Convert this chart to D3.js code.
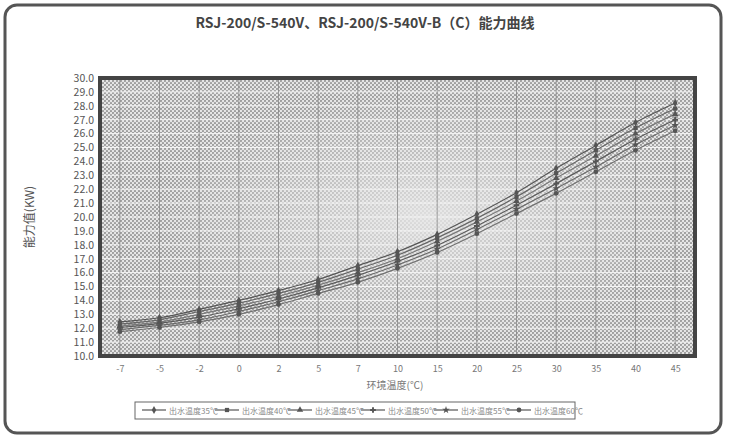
<!DOCTYPE html>
<html>
<head>
<meta charset="utf-8">
<script src="https://cdn.jsdelivr.net/npm/d3@7"></script>
<style>
  body { margin: 0; background: #fff; }
  text { font-family: "Noto Sans CJK SC", "DejaVu Sans", sans-serif; }
</style>
</head>
<body>
<svg id="chart" width="730" height="443"></svg>
<script>
const temps = ['-7', '-5', '-2', '0', '2', '5', '7', '10', '15', '20', '25', '30', '35', '40', '45'];
const seriesNames = ['出水温度35℃', '出水温度40℃', '出水温度45℃', '出水温度50℃', '出水温度55℃', '出水温度60℃'];
const s35 = [12.45, 12.75, 13.35, 14.0, 14.7, 15.5, 16.5, 17.5, 18.75, 20.2, 21.75, 23.5, 25.15, 26.8, 28.2];
const s40 = [12.3, 12.6, 13.2, 13.8, 14.5, 15.3, 16.25, 17.25, 18.5, 19.9, 21.45, 23.15, 24.8, 26.4, 27.8];
const s45 = [12.15, 12.45, 13.0, 13.6, 14.3, 15.1, 16.0, 17.0, 18.25, 19.65, 21.15, 22.8, 24.4, 26.0, 27.4];
const s50 = [12.05, 12.35, 12.8, 13.4, 14.1, 14.9, 15.8, 16.8, 17.95, 19.35, 20.85, 22.4, 24.0, 25.6, 27.0];
const s55 = [11.9, 12.2, 12.6, 13.2, 13.9, 14.7, 15.55, 16.55, 17.7, 19.1, 20.55, 22.05, 23.6, 25.2, 26.6];
const s60 = [11.75, 12.05, 12.45, 13.0, 13.7, 14.5, 15.3, 16.3, 17.45, 18.8, 20.25, 21.7, 23.25, 24.8, 26.2];
const yTicks = d3.range(10, 31, 1);

const allSeries = [s35, s40, s45, s50, s55, s60];
const symbols = [d3.symbolDiamond, d3.symbolSquare, d3.symbolTriangle, d3.symbolCross, d3.symbolStar, d3.symbolCircle];
const lineColors = ['#555', '#666', '#777', '#5a5a5a', '#6a6a6a', '#707070'];

const plot = { left: 100, right: 695, top: 78, bottom: 356 };

const svg = d3.select('#chart');

// dotted background pattern + light centre patch
const defs = svg.append('defs');
const pat = defs.append('pattern')
    .attr('id', 'dots').attr('width', 4).attr('height', 4)
    .attr('patternUnits', 'userSpaceOnUse');
pat.append('rect').attr('width', 4).attr('height', 4).attr('fill', '#e6e6e6');
pat.append('circle').attr('cx', 1).attr('cy', 1).attr('r', 1.1).attr('fill', '#9a9a9a');
pat.append('circle').attr('cx', 3).attr('cy', 3).attr('r', 1.1).attr('fill', '#9a9a9a');
const rg = defs.append('radialGradient').attr('id', 'glow').attr('cx', '0.55').attr('cy', '0.5').attr('r', '0.45');
rg.append('stop').attr('offset', '0%').attr('stop-color', '#e8e8e8').attr('stop-opacity', 0.85);
rg.append('stop').attr('offset', '100%').attr('stop-color', '#e8e8e8').attr('stop-opacity', 0);

// outer frame
svg.append('rect')
    .attr('x', 5).attr('y', 5).attr('width', 716).attr('height', 428)
    .attr('rx', 12).attr('fill', '#fff').attr('stroke', '#555').attr('stroke-width', 3);

svg.append('text')
    .attr('x', 365).attr('y', 28)
    .attr('text-anchor', 'middle')
    .attr('font-size', 14).attr('font-weight', 'bold').attr('fill', '#444')
    .text('RSJ-200/S-540V、RSJ-200/S-540V-B（C）能力曲线');

const x = d3.scalePoint().domain(temps).range([plot.left, plot.right]).padding(0.5);
const y = d3.scaleLinear().domain([10, 30]).range([plot.bottom, plot.top]);

svg.append('rect')
    .attr('x', plot.left).attr('y', plot.top)
    .attr('width', plot.right - plot.left).attr('height', plot.bottom - plot.top)
    .attr('fill', 'url(#dots)');
svg.append('rect')
    .attr('x', plot.left).attr('y', plot.top)
    .attr('width', plot.right - plot.left).attr('height', plot.bottom - plot.top)
    .attr('fill', 'url(#glow)');

// grid
const g = svg.append('g');
g.selectAll('.hg').data(yTicks).enter().append('line')
    .attr('x1', plot.left).attr('x2', plot.right)
    .attr('y1', d => y(d)).attr('y2', d => y(d))
    .attr('stroke', '#f4f4f4').attr('stroke-width', 1);
g.selectAll('.vg').data(temps).enter().append('line')
    .attr('x1', d => x(d)).attr('x2', d => x(d))
    .attr('y1', plot.top).attr('y2', plot.bottom)
    .attr('stroke', '#888').attr('stroke-width', 0.8);

svg.append('rect')
    .attr('x', plot.left).attr('y', plot.top)
    .attr('width', plot.right - plot.left).attr('height', plot.bottom - plot.top)
    .attr('fill', 'none').attr('stroke', '#444').attr('stroke-width', 4);

// axes
const yAxis = d3.axisLeft(y).tickValues(yTicks).tickSize(0).tickPadding(6).tickFormat(d3.format('.1f'));
svg.append('g').attr('transform', `translate(${plot.left},0)`).call(yAxis)
    .call(a => a.select('.domain').remove())
    .selectAll('text').attr('font-size', 10.5).attr('fill', '#555')
    .attr('font-family', '"DejaVu Sans Mono", monospace');

const xAxis = d3.axisBottom(x).tickSize(0).tickPadding(10);
svg.append('g').attr('transform', `translate(0,${plot.bottom})`).call(xAxis)
    .call(a => a.select('.domain').remove())
    .selectAll('text').attr('font-size', 9).attr('fill', '#777');

svg.append('text')
    .attr('transform', 'translate(34,217) rotate(-90)')
    .attr('text-anchor', 'middle').attr('font-size', 12).attr('fill', '#555')
    .text('能力值(KW)');
svg.append('text')
    .attr('x', 395).attr('y', 389)
    .attr('text-anchor', 'middle').attr('font-size', 10).attr('fill', '#777')
    .text('环境温度(℃)');

// lines
const line = d3.line().x((d, i) => x(temps[i])).y(d => y(d)).curve(d3.curveMonotoneX);
allSeries.forEach((s, k) => {
    svg.append('path').datum(s)
        .attr('d', line).attr('fill', 'none')
        .attr('stroke', lineColors[k]).attr('stroke-width', 1.2);
    svg.selectAll(`.m${k}`).data(s).enter().append('path')
        .attr('transform', (d, i) => `translate(${x(temps[i])},${y(d)})`)
        .attr('d', d3.symbol().type(symbols[k]).size(18))
        .attr('fill', '#555');
});

// legend
const lg = svg.append('g');
lg.append('rect').attr('x', 135).attr('y', 402).attr('width', 440).attr('height', 17)
    .attr('fill', '#fff').attr('stroke', '#666');
seriesNames.forEach((n, k) => {
    const lx = 142 + k * 73;
    lg.append('line').attr('x1', lx).attr('x2', lx + 24).attr('y1', 410).attr('y2', 410)
        .attr('stroke', '#555').attr('stroke-width', 1.2);
    lg.append('path').attr('transform', `translate(${lx + 12},410)`)
        .attr('d', d3.symbol().type(symbols[k]).size(18)).attr('fill', '#555');
    lg.append('text').attr('x', lx + 27).attr('y', 414)
        .attr('font-size', 8).attr('fill', '#888').text(n);
});
</script>
</body>
</html>
